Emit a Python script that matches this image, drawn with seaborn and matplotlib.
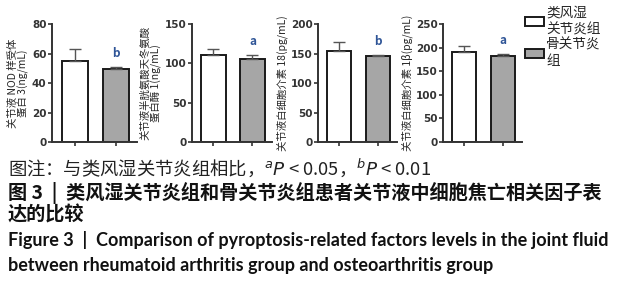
import matplotlib
matplotlib.use("Agg")
import matplotlib.pyplot as plt
import matplotlib.patches as mpatches
import seaborn as sns
import pandas as pd

sns.set_theme(style="ticks")
plt.rcParams['font.family'] = ['Noto Sans CJK SC', 'DejaVu Sans']

groups = ["类风湿关节炎组", "骨关节炎组"]
legend_labels = ["类风湿\n关节炎组", "骨关节炎\n组"]
ylabels = ["关节液 NOD 样受体\n蛋白 3(ng/mL)",
           "关节液半胱氨酸天冬氨酸\n蛋白酶 1(ng/mL)",
           "关节液白细胞介素 18(pg/mL)",
           "关节液白细胞介素 1β(pg/mL)"]
means_ra = [55, 110, 155, 191]
means_oa = [49.5, 106, 145, 183]
err_ra = [8, 8, 14, 12]
err_oa = [1.5, 5, 3, 4]
sig = ["b", "a", "b", "a"]
ymax = [80, 150, 200, 250]
ysteps = [20, 50, 50, 50]

colors = ["#ffffff", "#a6a6a6"]
W, H = 621, 300
fig = plt.figure(figsize=(W / 100, H / 100), dpi=100)

axes_px = [(52, 137), (192, 272), (318, 397), (443, 522)]
top_px, bot_px = 24, 142

for i in range(4):
    l, r = axes_px[i]
    ax = fig.add_axes([l / W, 1 - bot_px / H, (r - l) / W, (bot_px - top_px) / H])
    df = pd.DataFrame({"group": groups, "value": [means_ra[i], means_oa[i]]})
    sns.barplot(data=df, x="group", y="value", hue="group", palette=colors,
                width=0.62, edgecolor="#1a1a1a", linewidth=1.4, errorbar=None,
                legend=False, ax=ax)
    ax.errorbar([0, 1], df["value"], yerr=[[0, 0], [err_ra[i], err_oa[i]]],
                fmt="none", ecolor="#555555", elinewidth=1.0, capsize=4, capthick=1.0)
    ax.text(1, means_oa[i] + err_oa[i] + ymax[i] * 0.06, sig[i], ha="center", va="bottom",
            fontsize=8.5, fontweight="bold", color="#2f5597")
    ax.set_ylim(0, ymax[i])
    ax.set_xlim(-0.55, 1.5)
    ax.set_yticks(range(0, ymax[i] + 1, ysteps[i]))
    ax.set_xticks([0, 1])
    ax.set_xticklabels([])
    ax.set_xlabel("")
    ax.set_ylabel(ylabels[i], fontsize=7.5, labelpad=2, linespacing=1.0)
    ax.tick_params(axis="y", labelsize=7.5, length=3, width=1.2, colors="#333333", pad=1)
    ax.tick_params(axis="x", length=3, width=1.2, colors="#333333")
    for lab in ax.get_yticklabels():
        lab.set_fontweight("bold")
        lab.set_family(["DejaVu Sans"])
    for s in ["left", "bottom"]:
        ax.spines[s].set_linewidth(1.4)
        ax.spines[s].set_color("#333333")
    sns.despine(ax=ax)

handles = [mpatches.Patch(facecolor=c, edgecolor="#1a1a1a", linewidth=1.4) for c in colors]
fig.legend(handles, legend_labels, loc="upper left", bbox_to_anchor=(525 / W, 1 - 6 / H),
           frameon=False, fontsize=9.8, handlelength=1.4, handleheight=0.6,
           handletextpad=0.15, labelspacing=0.1, borderaxespad=0, borderpad=0)

fig.text(8 / W, 1 - 168 / H, "图注：与类风湿关节炎组相比，$^{a}$$\\it{P}$ < 0.05，$^{b}$$\\it{P}$ < 0.01",
         fontsize=13.2, va="center", ha="left", color="#222222")
fig.text(8 / W, 1 - 193 / H, "图 3  |  类风湿关节炎组和骨关节炎组患者关节液中细胞焦亡相关因子表",
         fontsize=13.8, fontweight="bold", va="center", ha="left", color="#111111")
fig.text(8 / W, 1 - 215 / H, "达的比较", fontsize=13.8, fontweight="bold",
         va="center", ha="left", color="#111111")
fig.text(8 / W, 1 - 240 / H,
         "Figure 3  |  Comparison of pyroptosis-related factors levels in the joint fluid",
         fontsize=13, fontweight="bold", va="center", ha="left", color="#111111",
         family=["Lato", "DejaVu Sans"])
fig.text(8 / W, 1 - 265 / H,
         "between rheumatoid arthritis group and osteoarthritis group",
         fontsize=13, fontweight="bold", va="center", ha="left", color="#111111",
         family=["Lato", "DejaVu Sans"])

fig.savefig("out.png", dpi=100)
